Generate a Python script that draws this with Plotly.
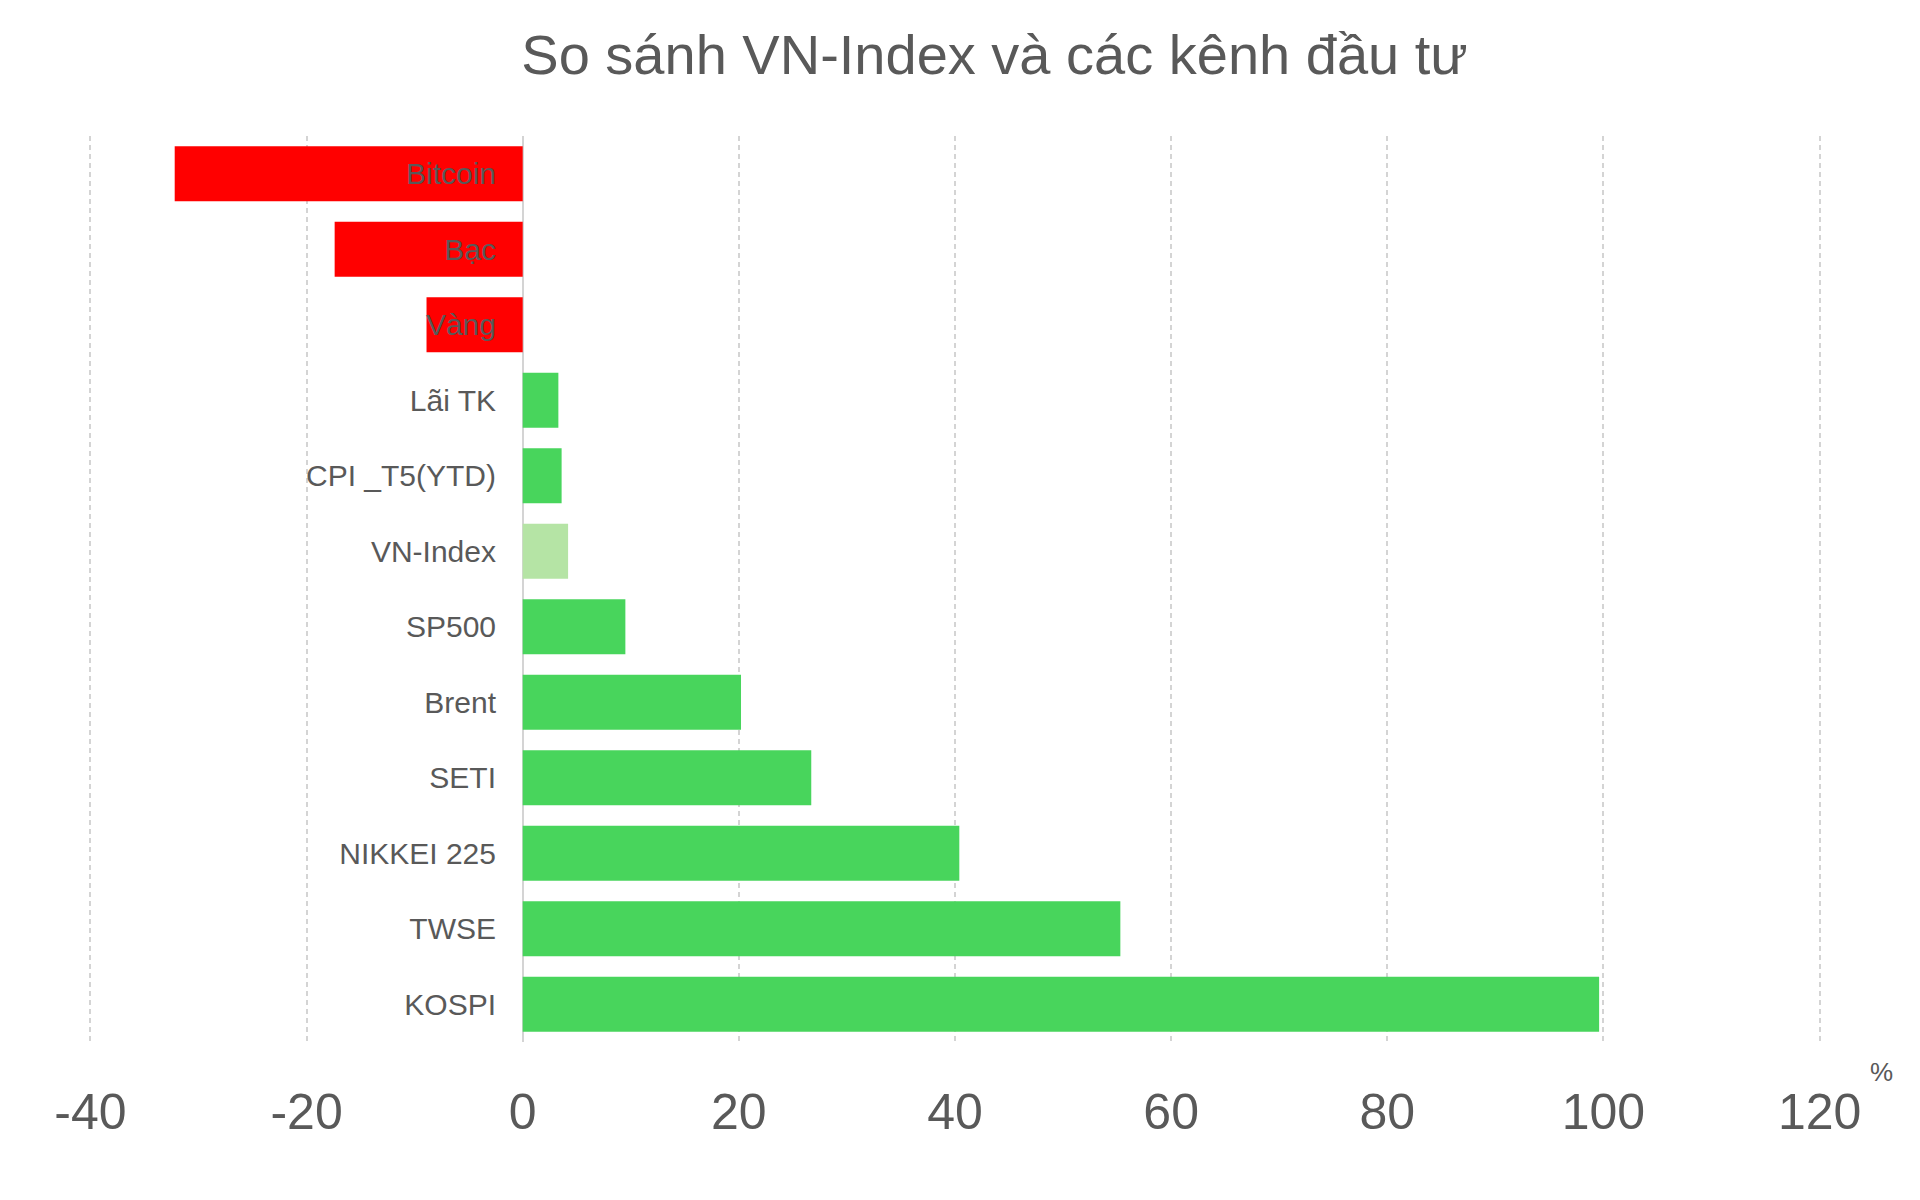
import plotly.graph_objects as go

categories = ["Bitcoin", "Bạc", "Vàng", "Lãi TK", "CPI _T5(YTD)", "VN-Index",
              "SP500", "Brent", "SETI", "NIKKEI 225", "TWSE", "KOSPI"]
values = [-32.2, -17.4, -8.9, 3.3, 3.6, 4.2, 9.5, 20.2, 26.7, 40.4, 55.3, 99.6]
x_ticks = [-40, -20, 0, 20, 40, 60, 80, 100, 120]

RED = "#FF0000"
GREEN = "#48D55C"
LIGHT_GREEN = "#B5E4A5"
colors = [RED if v < 0 else (LIGHT_GREEN if c == "VN-Index" else GREEN)
          for c, v in zip(categories, values)]

TEXT = "#595959"
FONT = "Liberation Sans, Arial, sans-serif"

fig = go.Figure()
fig.add_trace(go.Bar(
    x=values, y=categories, orientation="h",
    marker=dict(color=colors, line=dict(width=0)),
    hoverinfo="x+y", showlegend=False,
))

fig.update_layout(
    width=1920, height=1200,
    paper_bgcolor="white", plot_bgcolor="white",
    margin=dict(l=85, r=95, t=136, b=158),
    bargap=0.27,
    font=dict(family=FONT, color=TEXT),
    title=dict(text="So sánh VN-Index và các kênh đầu tư",
               x=0.518, xanchor="center", y=0.955, yanchor="middle",
               font=dict(size=56, color=TEXT, family=FONT)),
    xaxis=dict(
        range=[-40.5, 120.5], tickvals=x_ticks,
        ticktext=[str(t) for t in x_ticks],
        showgrid=True, gridcolor="#D4D4D4", gridwidth=1.5, griddash="5px,4px",
        zeroline=True, zerolinecolor="#D4D4D4", zerolinewidth=2,
        showline=False, ticks="", ticklabelstandoff=36,
        tickfont=dict(size=50, color=TEXT, family=FONT),
    ),
    yaxis=dict(
        categoryorder="array", categoryarray=categories,
        range=[11.5, -0.5],
        anchor="free", position=(523 - 85) / 1740, side="left",
        showgrid=False, zeroline=False, showline=False, ticks="",
        ticklabelstandoff=27,
        tickfont=dict(size=30, color=TEXT, family=FONT),
    ),
    annotations=[dict(text="%", xref="paper", yref="paper",
                      x=(1882 - 85) / 1740, y=(1042 - 1072) / 906,
                      xanchor="center", yanchor="middle", showarrow=False,
                      font=dict(size=26, color=TEXT, family=FONT))],
)

fig.write_html("out.html")
